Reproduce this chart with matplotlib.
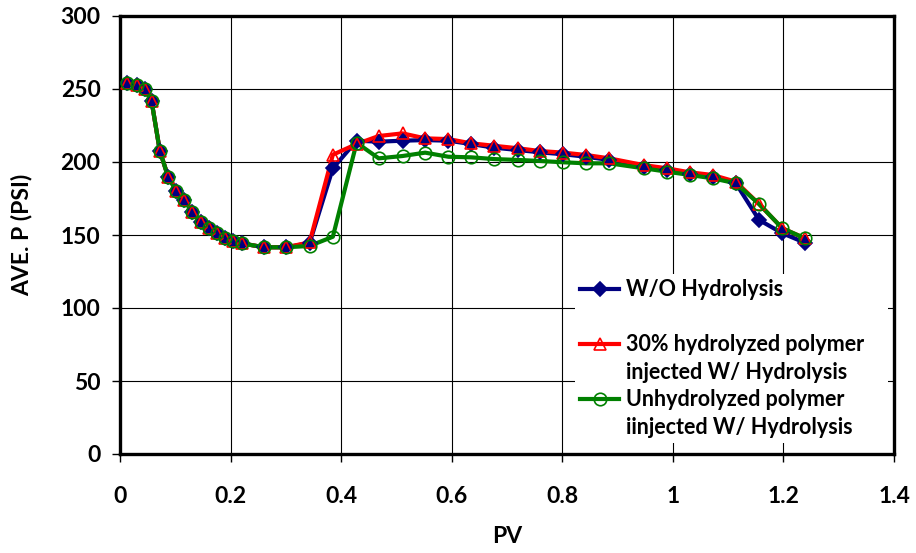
import matplotlib
matplotlib.use("Agg")
import matplotlib.pyplot as plt
from matplotlib.lines import Line2D

plt.rcParams["font.family"] = ["Lato", "DejaVu Sans"]
plt.rcParams["font.weight"] = "bold"

pv = [0.013, 0.030, 0.045, 0.057, 0.072, 0.087, 0.102, 0.116, 0.131, 0.146,
      0.161, 0.175, 0.190, 0.205, 0.220, 0.260, 0.301, 0.343, 0.385, 0.428,
      0.468, 0.511, 0.552, 0.594, 0.635, 0.677, 0.720, 0.760, 0.802, 0.843,
      0.885, 0.947, 0.989, 1.031, 1.072, 1.114, 1.156, 1.198, 1.239]

head = [254.3, 252.7, 249.8, 242.0, 207.7, 189.9, 180.3, 174.0, 166.0, 159.1,
        154.6, 151.2, 148.2, 145.9, 144.3, 141.6, 141.6]

wo_hydro = head + [144.5, 195.7, 214.6, 213.9, 214.6, 215.0, 214.6, 212.3, 209.8,
                   208.2, 206.6, 205.3, 203.6, 201.4, 196.8, 194.5, 191.8, 189.9,
                   185.4, 160.3, 151.2, 144.7]
hydro30 = head + [145.0, 205.0, 212.3, 217.8, 219.6, 216.2, 215.7, 212.8, 211.1,
                  209.4, 207.5, 206.4, 204.8, 202.5, 197.9, 195.7, 192.9, 191.1,
                  186.5, 171.2, 154.6, 147.7]
unhydro = head + [142.5, 148.8, 213.2, 202.5, 204.1, 206.4, 203.6, 203.2, 202.0,
                  201.4, 200.7, 199.8, 199.1, 199.1, 195.7, 193.4, 191.1, 188.8,
                  185.4, 171.2, 154.6, 147.7]

xticks = [0, 0.2, 0.4, 0.6, 0.8, 1.0, 1.2, 1.4]
xlabels = ["0", "0.2", "0.4", "0.6", "0.8", "1", "1.2", "1.4"]
yticks = [0, 50, 100, 150, 200, 250, 300]

fig = plt.figure(figsize=(9.16, 5.53), dpi=100)
ax = fig.add_axes([120 / 916, 1 - 454 / 553, 774 / 916, 438 / 553])

series = [
    (wo_hydro, "#000080", "D", "#000080", 7),
    (hydro30, "#ff0000", "^", "none", 9),
    (unhydro, "#008000", "o", "none", 9),
]
handles = []
for vals, col, mk, fc, ms in series:
    ax.plot(pv, vals, color=col, lw=3, zorder=3)
for vals, col, mk, fc, ms in series:
    ax.plot(pv, vals, ls="none", marker=mk, ms=ms, mfc=fc, mec=col, mew=1.2, zorder=4)
    handles.append(Line2D([], [], color=col, lw=3, marker=mk, ms=ms, mfc=fc,
                          mec=col, mew=1.2))

blank = Line2D([], [], color="none")
leg_handles = [handles[0], blank, handles[1], blank, handles[2], blank]
leg_labels = ["W/O Hydrolysis", "", "30% hydrolyzed polymer",
              "injected W/ Hydrolysis", "Unhydrolyzed polymer",
              "iinjected W/ Hydrolysis"]
leg = ax.legend(leg_handles, leg_labels, loc="upper left",
                bbox_to_anchor=(0.588, 0.027, 0.404, 0.384), mode="expand",
                prop={"family": "Lato", "weight": "bold", "size": 15.5},
                frameon=True, fancybox=False, framealpha=1, handlelength=1.8,
                handletextpad=0.3, labelspacing=0.3, borderpad=0.25,
                borderaxespad=0)
leg.get_frame().set_edgecolor("white")
leg.get_frame().set_linewidth(0)
leg.set_zorder(5)

ax.set_xlim(0, 1.4)
ax.set_ylim(0, 300)
ax.set_xticks(xticks)
ax.set_xticklabels(xlabels)
ax.set_yticks(yticks)
ax.grid(True, color="black", lw=0.8)
ax.set_axisbelow(True)
for s in ax.spines.values():
    s.set_linewidth(2.4)
ax.tick_params(axis="both", direction="out", length=6, width=1, labelsize=16.5)
ax.tick_params(axis="x", pad=17)
ax.tick_params(axis="y", pad=8)

ax.set_xlabel("PV", fontsize=16.5, fontweight="bold", labelpad=14)
ax.set_ylabel("AVE. P (PSI)", fontsize=16.5, fontweight="bold", labelpad=20)

fig.savefig("out.png", dpi=100)
